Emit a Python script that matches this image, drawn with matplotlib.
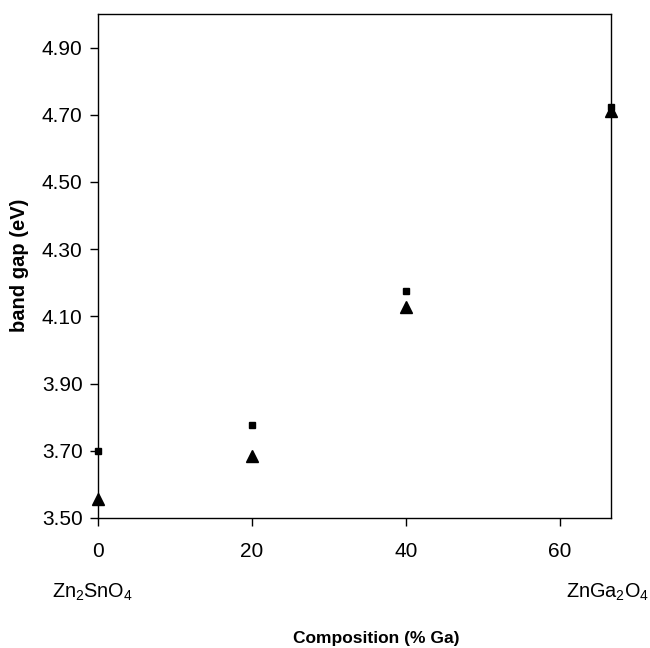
import matplotlib
matplotlib.use("Agg")
import matplotlib.pyplot as plt

plt.rcParams['font.family'] = ['Liberation Sans', 'DejaVu Sans']
plt.rcParams['mathtext.fontset'] = 'custom'
plt.rcParams['mathtext.rm'] = 'Liberation Sans'

ga = [0, 20, 40, 66.67]
gap_sq = [3.70, 3.778, 4.175, 4.722]
gap_tri = [3.557, 3.686, 4.127, 4.712]

fig = plt.figure(figsize=(6.5, 6.48), dpi=100)
ax = fig.add_axes([98/650, 1 - 518/648, (611-98)/650, (518-14)/648])

ax.plot(ga, gap_sq, 's', color='black', markersize=5, clip_on=False, zorder=3)
ax.plot(ga, gap_tri, '^', color='black', markersize=8, clip_on=False, zorder=3)

ax.set_xlim(0, 66.67)
ax.set_ylim(3.5, 5.0)
ax.set_xticks([0, 20, 40, 60])
ax.set_yticks([3.5, 3.7, 3.9, 4.1, 4.3, 4.5, 4.7, 4.9])
ax.set_yticklabels(['%.2f' % v for v in ax.get_yticks()])
ax.tick_params(direction='out', length=6, width=1, labelsize=15, pad=5)
ax.tick_params(axis='x', pad=11)
for s in ax.spines.values():
    s.set_linewidth(1)

ax.set_ylabel('band gap (eV)', fontsize=14.5, fontweight='bold')
ax.yaxis.set_label_coords(-(98 - 29) / 513, (518 - 265) / 504)
fig.text(52/650, 1 - 592/648, r'Zn$_\mathrm{2}$SnO$_\mathrm{4}$', fontsize=14.3, ha='left', va='center')
fig.text(649/650, 1 - 592/648, r'ZnGa$_\mathrm{2}$O$_\mathrm{4}$', fontsize=14.3, ha='right', va='center')
fig.text(376/650, 1 - 639/648, 'Composition (% Ga)', fontsize=12.5, fontweight='bold',
         ha='center', va='center')

plt.savefig('out.png')
